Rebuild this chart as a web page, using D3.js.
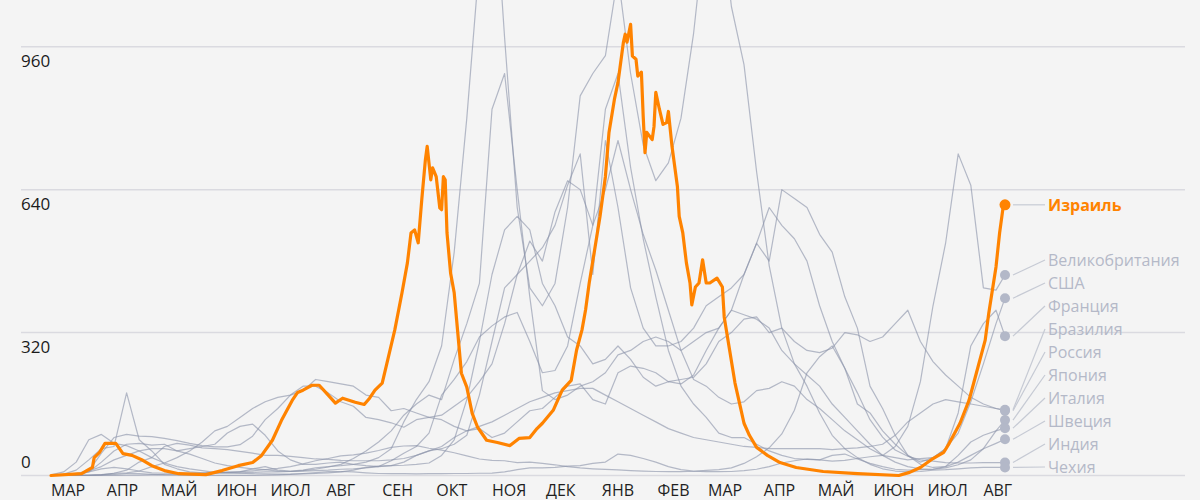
<!DOCTYPE html>
<html><head><meta charset="utf-8">
<script src="https://cdn.jsdelivr.net/npm/d3@7"></script>
<style>
html,body{margin:0;padding:0;background:#f4f4f4;}
svg{display:block;font-family:"Open Sans",sans-serif;}
</style></head><body>
<svg id="chart" width="1200" height="500"></svg>
<script>
// ---- data: new cases per million (7-day average) ----
const startDate = new Date(2020, 2, 1);   // 1 March 2020
const endDay = 530;                        // 13 August 2021
const grayDays = d3.range(0, 526, 7).concat([endDay]);

const monthLabels = ["МАР","АПР","МАЙ","ИЮН","ИЮЛ","АВГ","СЕН","ОКТ","НОЯ","ДЕК","ЯНВ","ФЕВ","МАР","АПР","МАЙ","ИЮН","ИЮЛ","АВГ"];
const yTicks = [0, 320, 640, 960];

const countryNames = ["Великобритания","США","Франция","Бразилия","Россия","Япония","Италия","Швеция","Индия","Чехия"];

const ukValues = [0,0.5,2,8,30,55,70,72,68,70, 55,48,38,28,22,18,15,13,10,9, 10,11,12,14,15,17,20,33,50,65, 95,180,215,255,310,335,355,365,300,230, 235,290,430,560,820,900,690,530,400,280, 200,160,130,95,85,85,70,55,45,38, 36,35,32,34,38,42,45,65,110,210, 380,520,720,650,420,415,449];
const usaValues = [0,0.1,1,10,50,85,92,88,87,83, 78,72,67,64,64,69,88,125,150,180, 200,200,185,165,155,130,125,118,108,125, 130,135,155,175,210,250,340,450,525,480, 590,660,640,560,640,750,640,540,460,370, 280,215,200,175,160,165,190,195,210,200, 170,150,125,100,80,60,45,40,35,38, 40,60,95,165,250,340,397];
const franceValues = [0.3,3,12,35,60,65,185,80,55,25, 15,8,6,6,7,6,7,8,8,9, 11,14,19,25,38,55,75,100,135,160, 180,170,260,340,430,820,900,640,400,190, 170,180,200,210,230,270,280,300,310,300, 280,300,320,330,370,450,520,600,560,530, 480,380,300,240,160,140,100,70,45,30, 40,60,140,290,340,370,312];
const brazilValues = [0,0,0.2,1,2,5,6,10,20,28, 40,55,75,100,110,130,150,165,175,180, 190,215,210,205,200,180,175,145,150,140, 130,125,110,100,105,85,95,120,145,150, 175,200,205,170,160,230,245,240,230,210, 215,220,250,300,320,350,355,320,330,300, 280,275,285,320,315,300,310,340,370,300, 255,225,200,175,160,150,147];
const russiaValues = [0,0,0.1,0.5,1.5,5,12,30,40,65, 72,68,62,60,58,54,50,45,45,43, 40,37,36,34,33,33,33,35,38,45, 55,65,85,100,110,120,135,150,165,175, 185,190,195,195,180,165,150,135,120,105, 95,85,80,75,70,65,63,60,60,60, 60,60,58,60,62,65,70,90,120,140, 160,170,165,160,155,150,145];
const japanValues = [0.1,0.3,0.4,0.5,1.3,2.5,4,4,2.5,1.2, 0.6,0.3,0.3,0.3,0.3,0.4,0.4,0.7,1.5,2.5, 4.5,6.5,8.5,9,8,6,4.5,4,4,3.8, 4,4.2,4.5,4.5,5,5.5,8,13,17,17, 18,21,22,27,30,48,45,38,30,20, 13,10,8.5,8.5,9,11,14,20,28,33, 37,35,45,48,37,27,20,14,12,13, 14,17,24,35,60,100,124];
const italyValues = [1.5,8,30,80,92,72,67,55,40,28, 20,15,11,7,5,5,4,3.5,3,3, 3.5,4.5,6,8,12,18,21,22,23,25, 28,45,80,170,300,450,550,580,550,430, 380,310,290,250,260,290,260,220,200,210, 205,225,280,330,370,360,350,330,280,250, 225,200,160,130,100,70,45,30,20,15, 14,20,45,75,90,100,106];
const swedenValues = [0,0.5,5,10,20,35,45,55,60,60, 55,60,65,70,95,110,115,90,55,35, 25,25,28,30,25,22,20,22,30,45, 55,60,70,90,180,300,420,450,480,510, 560,650,720,450,750,600,420,330,290,290, 300,330,380,400,420,450,520,480,640,620, 600,540,500,400,330,200,150,90,45,25, 18,20,30,45,60,72,81];
const indiaValues = [0,0,0,0.05,0.1,0.3,0.6,1,1.3,1.8, 2.5,3.5,4.8,6,7,8.5,10.5,13,16,20, 26,33,38,44,46,50,56,63,66,67, 61,57,51,44,37,34,33,29,30,27, 24,20,17,15,13.5,12.5,11,10,9,8.5, 8.5,9.5,11.5,13,17,27,42,62,93,146, 230,266,290,240,185,125,86,57,43,35, 32,29,28,28,29,29,29];
const czechValues = [0,0.3,2,8,15,18,15,10,6,5, 5,5,5,6,7,8,15,20,12,10, 12,17,20,22,25,30,40,60,120,170, 210,290,500,800,1150,1400,980,600,420,380, 430,600,850,900,940,1120,900,740,660,700, 800,990,1250,1300,1050,920,680,470,330,250, 200,140,90,60,40,25,15,10,8,9, 12,13,15,17,18,18,18];

const grayValues = [ukValues, usaValues, franceValues, brazilValues, russiaValues, japanValues, italyValues, swedenValues, indiaValues, czechValues];

const israelName = "Израиль";
const israelDays = [0,17,23,24,27,30,36,40,45,51,56,63,71,86,95,104,112,117,123,128,134,137,140,145,149,154,158,162,169,174,177,180,184,187,191,195,198,200,202,204,206,208,209,211,212,214,216,217,218,219,220,222,224,226,228,231,234,237,242,248,255,260,266,270,273,279,284,289,292,295,297,299,302,305,308,310,313,315,318,319,320,322,323,325,326,328,329,330,331,334,335,336,338,340,342,343,345,348,349,351,353,355,356,358,360,362,364,366,370,373,374,377,380,383,385,388,392,398,405,414,429,448,471,477,483,490,496,499,505,510,515,519,521,525,527,529,530];
const israelValues = [0,4,18,40,52,72,72,49,45,34,22,11,4,2,11,22,29,45,79,123,168,186,191,202,202,180,162,173,164,159,173,191,207,258,326,409,476,543,550,521,618,707,737,662,689,669,599,595,669,662,543,453,409,319,229,198,139,108,79,74,67,83,85,105,117,146,191,213,281,326,371,431,505,580,669,768,842,880,970,988,970,1010,939,932,894,903,804,723,768,752,781,858,820,786,790,815,737,647,580,543,476,431,382,422,431,483,431,431,442,422,355,281,207,153,117,90,63,45,29,18,9,4,0,7,18,38,52,72,117,168,243,303,364,467,543,602,606];

// ---- scales ----
const svg = d3.select("#chart");
const dayToDate = d => d3.timeDay.offset(startDate, d);
const x = d3.scaleTime().domain([startDate, dayToDate(endDay)]).range([51, 1005]);
const y = d3.scaleLinear().domain([0, 960]).range([475.5, 46.7]);

// background
svg.append("rect").attr("width",1200).attr("height",500).attr("fill","#f4f4f4");

// grid
const grid = svg.append("g");
grid.selectAll("line").data(yTicks).join("line")
  .attr("x1",21).attr("x2",1185)
  .attr("y1",d=>y(d)).attr("y2",d=>y(d))
  .attr("stroke","#dadae0").attr("stroke-width",1.5);
grid.selectAll("text").data(yTicks).join("text")
  .attr("x",21)
  .attr("y",d=> d===0 ? y(d)-7.5 : y(d)+20)
  .attr("font-size",17).attr("fill","#1b1b1b")
  .text(d=>d);

// month labels
const months = d3.timeMonth.range(startDate, dayToDate(endDay));
svg.append("g").selectAll("text").data(months).join("text")
  .attr("x",d=>x(d)).attr("y",496)
  .attr("font-size",16).attr("fill","#1f1f1f")
  .text((d,i)=>monthLabels[i]);

// lines
const line = d3.line().x(d=>x(dayToDate(d[0]))).y(d=>y(d[1])).curve(d3.curveLinear);

svg.append("g").selectAll("path").data(grayValues).join("path")
  .attr("d",vals=>line(vals.map((v,i)=>[grayDays[i], v])))
  .attr("fill","none").attr("stroke","#8a93a9").attr("stroke-opacity",0.62)
  .attr("stroke-width",1.2).attr("stroke-linejoin","round");

svg.append("path")
  .attr("d", line(israelDays.map((d,i)=>[d, israelValues[i]])))
  .attr("fill","none").attr("stroke","#ff8300").attr("stroke-width",3.2)
  .attr("stroke-linejoin","round").attr("stroke-linecap","round");

// legend
const endX = x(dayToDate(endDay));
const grayEnds = countryNames.map((n,i)=>({name:n, v:grayValues[i][grayValues[i].length-1]}))
  .sort((a,b)=>b.v-a.v);
const leg = svg.append("g");
grayEnds.forEach((d,i)=>{
  const ly = 260 + i*23;
  leg.append("line").attr("x1",endX+8).attr("y1",y(d.v)).attr("x2",1045).attr("y2",ly)
    .attr("stroke","#c6cad4").attr("stroke-width",1.2);
  leg.append("circle").attr("cx",endX).attr("cy",y(d.v)).attr("r",5)
    .attr("fill","#b3b8c8");
  leg.append("text").attr("x",1048).attr("y",ly).attr("dy","0.35em")
    .attr("font-size",16).attr("fill","#b4b9c8").text(d.name);
});
const iy = y(israelValues[israelValues.length-1]);
leg.append("line").attr("x1",endX+8).attr("y1",iy).attr("x2",1045).attr("y2",iy)
  .attr("stroke","#c6cad4").attr("stroke-width",1.2);
leg.append("circle").attr("cx",endX).attr("cy",iy).attr("r",5.5).attr("fill","#ff8300");
leg.append("text").attr("x",1048).attr("y",iy+1).attr("dy","0.35em")
  .attr("font-size",16).attr("font-weight","bold").attr("fill","#ff8300").text(israelName);
</script>
</body></html>
